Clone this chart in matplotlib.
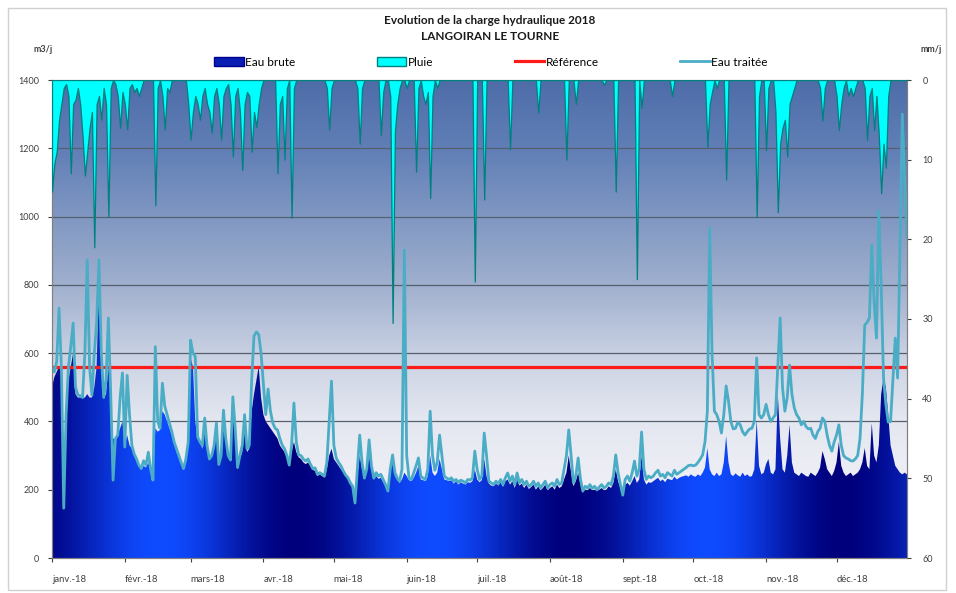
#!/usr/bin/env python3
"""Evolution de la charge hydraulique 2018 - Langoiran Le Tourne."""

import matplotlib

matplotlib.use("Agg")

import matplotlib.pyplot as plt
import numpy as np
from matplotlib.lines import Line2D
from matplotlib.patches import Patch, Polygon, Rectangle

plt.rcParams["font.family"] = ["Lato", "DejaVu Sans"]

# ── Data (daily values, day 0 = 1 Jan 2018) ─────────────────────────────────
EAU_TRAITEE = [
    560, 545, 575, 732, 555, 146, 420, 560, 620, 688,
    500, 478, 475, 470, 600, 873, 560, 477, 600, 690,
    873, 600, 470, 520, 703, 480, 228, 350, 360, 470,
    542, 325, 535, 420, 330, 305, 290, 272, 262, 285,
    272, 310, 260, 228, 619, 400, 380, 512, 445, 420,
    395, 370, 340, 320, 300, 280, 262, 290, 340, 638,
    600, 590, 355, 340, 330, 410, 330, 290, 300, 330,
    395, 274, 300, 433, 350, 300, 287, 472, 380, 265,
    300, 330, 420, 320, 330, 520, 650, 662, 655, 600,
    512, 420, 495, 430, 395, 380, 375, 350, 331, 320,
    300, 272, 330, 454, 340, 302, 300, 290, 284, 290,
    275, 262, 264, 245, 250, 245, 240, 280, 400, 518,
    330, 293, 280, 270, 255, 243, 235, 220, 210, 161,
    260, 360, 280, 234, 260, 346, 270, 234, 250, 240,
    245, 230, 215, 196, 260, 302, 250, 234, 225, 260,
    902, 300, 234, 230, 250, 270, 293, 240, 234, 230,
    260, 430, 300, 257, 280, 360, 300, 240, 234, 230,
    235, 225, 230, 222, 228, 225, 220, 230, 228, 235,
    313, 260, 230, 240, 366, 300, 225, 220, 215, 225,
    218, 230, 215, 235, 249, 225, 240, 215, 249, 220,
    230, 215, 225, 210, 215, 225, 210, 220, 205, 215,
    225, 205, 215, 220, 210, 230, 215, 220, 260, 300,
    375, 300, 220, 240, 293, 230, 196, 210, 205, 215,
    204, 210, 200, 208, 215, 205, 210, 220, 215, 240,
    302, 250, 215, 184, 230, 240, 225, 250, 284, 240,
    260, 369, 260, 230, 240, 235, 240, 250, 257, 240,
    245, 235, 250, 245, 240, 257, 245, 250, 255, 260,
    265, 271, 272, 270, 272, 280, 290, 302, 340, 430,
    967, 600, 430, 420, 400, 366, 420, 504, 460, 400,
    378, 380, 398, 390, 370, 360, 370, 378, 380, 400,
    586, 420, 410, 420, 450, 420, 400, 410, 420, 560,
    703, 500, 430, 470, 565, 480, 440, 420, 410, 390,
    400, 385, 378, 380, 360, 350, 370, 380, 410, 400,
    360, 330, 313, 340, 360, 390, 330, 300, 293, 290,
    285, 284, 290, 300, 350, 480, 682, 690, 703, 917,
    750, 644, 1016, 800, 527, 450, 398, 400, 520, 644,
    527, 900, 1300, 1100, 940,
]

EAU_BRUTE = [
    500, 530, 545, 560, 540, 140, 400, 520, 560, 600,
    480, 470, 470, 468, 470, 480, 470, 470, 500, 560,
    800, 580, 470, 480, 560, 470, 350, 345, 360, 380,
    400, 330, 360, 330, 320, 300, 285, 270, 258, 270,
    265, 280, 255, 240, 380, 370, 375, 430, 420, 400,
    380, 360, 335, 310, 295, 275, 258, 280, 330, 586,
    560, 400, 350, 340, 320, 380, 320, 290, 295, 320,
    360, 270, 295, 380, 340, 300, 285, 420, 370, 260,
    290, 310, 380, 310, 320, 430, 480, 520, 560, 470,
    420, 400, 390, 380, 370, 360, 350, 330, 320, 310,
    295, 270, 310, 340, 310, 295, 290, 280, 275, 280,
    270, 258, 255, 240, 245, 240, 235, 260, 300, 320,
    290, 280, 270, 260, 250, 240, 232, 218, 205, 170,
    240, 300, 260, 230, 250, 300, 255, 230, 240, 232,
    235, 222, 210, 195, 240, 300, 240, 228, 220, 230,
    250, 240, 228, 225, 235, 250, 270, 230, 228, 225,
    240, 300, 250, 240, 250, 290, 260, 230, 228, 225,
    228, 218, 225, 215, 222, 218, 215, 222, 220, 225,
    260, 230, 222, 228, 290, 240, 218, 212, 210, 218,
    212, 222, 208, 225, 230, 215, 225, 205, 230, 212,
    218, 205, 215, 202, 208, 215, 200, 210, 198, 205,
    215, 198, 205, 210, 200, 215, 205, 210, 230, 250,
    300, 250, 210, 225, 250, 215, 192, 200, 198, 205,
    198, 200, 195, 200, 205, 198, 200, 210, 205, 220,
    260, 225, 205, 185, 215, 220, 212, 225, 240, 220,
    230, 300, 230, 215, 222, 220, 225, 230, 235, 225,
    230, 222, 232, 230, 228, 238, 230, 235, 238, 240,
    242, 238, 245, 240, 238, 245, 240, 250, 265, 322,
    260, 245, 240, 250, 240, 245, 280, 357, 280, 245,
    240, 248, 242, 238, 250, 240, 245, 238, 240, 260,
    404, 270, 245, 250, 275, 290, 250, 245, 260, 480,
    350, 260, 250, 300, 390, 280, 250, 245, 240, 250,
    245, 240, 238, 250, 245, 240, 250, 265, 313, 290,
    260, 250, 240, 255, 280, 340, 270, 250, 240, 245,
    250, 240, 245, 250, 260, 280, 322, 270, 260, 395,
    300, 280, 330, 480, 527, 500, 420, 330, 300, 270,
    260, 250, 245, 250, 245,
]

# rain events (day, mm); all other days are dry
RAIN_DAYS = [
    0, 1, 2, 3, 4, 5, 6, 7, 8, 9, 10, 11, 12, 13, 14, 15, 16, 17, 18, 19,
    20, 21, 22, 23, 24, 25, 27, 28, 29, 30, 31, 32, 33, 34, 35, 36, 37, 38,
    44, 45, 47, 48, 49, 50, 58, 59, 60, 61, 62, 63, 64, 65, 66, 67, 68, 69,
    70, 71, 72, 73, 74, 75, 76, 77, 78, 79, 80, 81, 82, 83, 84, 85, 86, 87,
    88, 89, 96, 97, 98, 99, 100, 102, 103, 117, 118, 119, 130, 131, 132,
    140, 141, 144, 145, 146, 147, 148, 151, 155, 156, 158, 159, 160, 161,
    162, 164, 180, 184, 195, 207, 219, 223, 235, 240, 249, 251, 264, 279,
    280, 281, 283, 287, 300, 301, 304, 305, 308, 309, 310, 311, 312, 313,
    314, 315, 316, 327, 328, 329, 334, 335, 336, 337, 339, 340, 341, 342,
    346, 347, 348, 349, 350, 351, 352, 353, 354, 355, 356,
]
RAIN_MM = [
    14.0, 10.5, 9.0, 5.0, 3.0, 1.0, 0.5, 2.0, 11.7, 3.0, 2.5, 1.0, 3.0, 7.0,
    12.0, 9.0, 6.0, 4.0, 21.0, 3.0,
    2.0, 5.0, 1.0, 3.0, 17.2, 1.0, 0.5, 2.0, 6.0, 1.5, 3.0, 6.2, 1.0, 0.5,
    1.5, 1.0, 2.0, 1.0,
    15.7, 1.0, 2.0, 6.2, 1.0, 1.5, 3.0, 7.5, 4.0, 2.0, 3.0, 5.0, 2.0, 1.0,
    3.0, 4.0, 6.6, 2.0,
    1.0, 3.0, 7.5, 2.0, 1.0, 0.5, 3.0, 9.6, 2.0, 1.0, 4.0, 11.3, 3.0, 1.5,
    2.0, 9.0, 4.0, 5.9,
    3.0, 1.0, 11.7, 3.0, 2.0, 10.0, 1.0, 17.3, 1.0, 1.0, 6.2, 1.0, 1.0, 8.0,
    1.0,
    6.9, 1.5, 2.0, 30.5, 6.4, 3.0, 1.0, 1.0, 11.5, 1.0, 2.0, 3.0, 1.5, 14.8,
    2.0, 1.0, 25.3, 15.0, 8.7, 4.1, 10.0, 3.0, 0.6, 14.0, 25.0, 3.5, 2.0, 8.4,
    3.0, 1.5, 1.0, 12.5, 17.2, 2.0, 8.8, 1.0, 4.0, 16.6, 8.0, 6.0, 5.0, 9.6,
    3.0, 2.0, 1.0, 1.0, 5.1, 1.0, 2.0, 6.3, 3.0, 1.0, 2.0, 1.0, 2.0, 1.0,
    1.0, 7.5, 2.0, 1.0, 6.3, 2.0, 7.0, 14.2, 8.0, 11.0, 2.0,
]

REFERENCE = 560

MONTH_STARTS = [0, 31, 59, 90, 120, 151, 181, 212, 243, 273, 304, 334]
MONTH_LABELS = ["janv.-18", "févr.-18", "mars-18", "avr.-18", "mai-18", "juin-18",
                "juil.-18", "août-18", "sept.-18", "oct.-18", "nov.-18", "déc.-18"]


def _background(n=300):
    """Vertical steel blue -> white gradient (Excel style)."""
    stops = np.array([0.0, 0.14, 0.29, 0.43, 0.57, 0.85, 1.0])
    cols = np.array([
        (243, 243, 248), (240, 240, 247), (228, 231, 240), (200, 208, 226),
        (160, 176, 206), (98, 128, 183), (78, 108, 168),
    ]) / 255.0
    f = np.linspace(0, 1, n)
    rgb = np.stack([np.interp(f, stops, cols[:, i]) for i in range(3)], axis=-1)
    return np.repeat(rgb[:, None, :], 2, axis=1)


def _brute_fill(n=600):
    """Horizontal navy / bright blue bands."""
    u = np.linspace(0, 1, n)
    s = 0.5 * (1 + np.cos(2 * np.pi * (u - 0.126) / 0.32))
    dark = np.array([0, 0, 125]) / 255.0
    bright = np.array([15, 75, 255]) / 255.0
    rgb = dark[None, :] + s[:, None] * (bright - dark)[None, :]
    return np.repeat(rgb[None, :, :], 2, axis=0)


def main() -> None:
    days = np.arange(len(EAU_TRAITEE))
    last = days[-1]
    rain = np.zeros(len(days))
    rain[RAIN_DAYS] = RAIN_MM

    fig = plt.figure(figsize=(9.56, 5.93), dpi=100)
    ax = fig.add_axes([52 / 956, 1 - 558 / 593, 855 / 956, 478 / 593])

    # background + grid
    ax.imshow(_background(), extent=[0, last, 0, 1400], aspect="auto",
              origin="lower", zorder=0)
    for v in range(200, 1400, 200):
        ax.axhline(v, color="#55606e", lw=0.9, zorder=1)

    # Eau brute: gradient image clipped to the area
    verts = [(0, 0)] + list(zip(days, EAU_BRUTE)) + [(last, 0)]
    poly = Polygon(verts, closed=True, facecolor="none", edgecolor="none")
    ax.add_patch(poly)
    im = ax.imshow(_brute_fill(), extent=[0, last, 0, 1400], aspect="auto",
                   origin="lower", zorder=2)
    im.set_clip_path(poly)

    ax.axhline(REFERENCE, color="#ff1a1a", lw=2.3, zorder=3)
    ax.plot(days, EAU_TRAITEE, color="#4bacc6", lw=2.0, zorder=4,
            solid_joinstyle="round")

    ax.set_xlim(0, last)
    ax.set_ylim(0, 1400)
    ax.set_yticks(range(0, 1401, 200))
    ax.set_xticks(MONTH_STARTS)
    ax.set_xticklabels(MONTH_LABELS, ha="left")
    ax.tick_params(axis="y", labelsize=6.5, colors="#404040", length=3, pad=6)
    ax.tick_params(axis="x", labelsize=6.8, colors="#404040", length=3, pad=9)

    # rain on secondary inverted axis
    ax2 = ax.twinx()
    ax2.fill_between(days, 0, rain, facecolor="#00ffff", edgecolor="#00807f",
                     lw=0.9, zorder=5)
    ax2.set_ylim(60, 0)
    ax2.set_yticks(range(0, 61, 10))
    ax2.tick_params(axis="y", labelsize=6.5, colors="#404040", length=3, pad=8)
    ax2.patch.set_visible(False)

    for a in (ax, ax2):
        for sp in a.spines.values():
            sp.set_color("#808080")
            sp.set_linewidth(0.8)

    # titles and unit labels
    fig.text(490 / 956, 1 - 20 / 593, "Evolution de la charge hydraulique 2018",
             ha="center", va="center", fontsize=8.5, fontweight="bold", color="#1a1a1a")
    fig.text(490 / 956, 1 - 36 / 593, "LANGOIRAN LE TOURNE",
             ha="center", va="center", fontsize=8.5, fontweight="bold", color="#1a1a1a")
    fig.text(43 / 956, 1 - 50 / 593, "m3/j", ha="center", va="center",
             fontsize=6.5, fontweight="bold", color="#404040")
    fig.text(931 / 956, 1 - 50 / 593, "mm/j", ha="center", va="center",
             fontsize=6.5, fontweight="bold", color="#404040")

    handles = [
        Patch(facecolor="#0a1eb4", edgecolor="#000090"),
        Patch(facecolor="#00ffff", edgecolor="#00807f"),
        Line2D([], [], color="#ff1a1a", lw=2.3),
        Line2D([], [], color="#4bacc6", lw=2.0),
    ]
    fig.legend(handles, ["Eau brute", "Pluie", "Référence", "Eau traitée"],
               loc="center left", bbox_to_anchor=(214 / 956, 1 - 62 / 593),
               ncol=4, frameon=False, fontsize=8.5, handlelength=2.5,
               handleheight=0.75, handletextpad=0.12, columnspacing=6.9,
               borderpad=0, borderaxespad=0)

    fig.patches.append(Rectangle((8 / 956, 1 - 590 / 593), 938 / 956, 582 / 593,
                                 transform=fig.transFigure, fill=False,
                                 edgecolor="#d0d0d0", lw=1))

    fig.savefig("out.png", dpi=100)
    plt.close(fig)


if __name__ == "__main__":
    main()
